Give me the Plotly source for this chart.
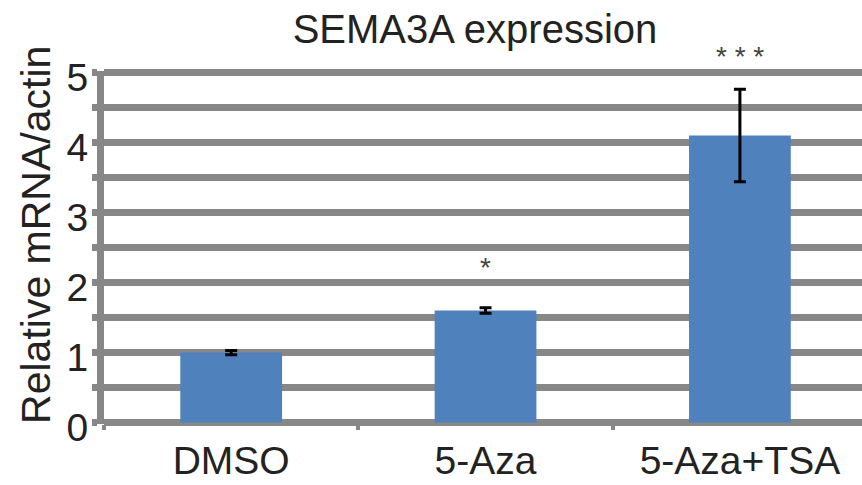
import plotly.graph_objects as go

categories = ["DMSO", "5-Aza", "5-Aza+TSA"]
values = [1.0, 1.6, 4.1]
errors = [0.03, 0.04, 0.66]
significance = ["", "*", "* * *"]
sig_y = [None, 2.22, 5.22]
ytick_vals = [0, 0.5, 1, 1.5, 2, 2.5, 3, 3.5, 4, 4.5, 5]
ytick_text = ["0", "", "1", "", "2", "", "3", "", "4", "", "5"]

FONT = "Liberation Sans, Arial, sans-serif"
GRID = "#878787"
Y0, Y1 = -0.02, 5.02

fig = go.Figure()
fig.add_trace(go.Bar(
    x=categories, y=values, width=0.4,
    marker=dict(color="#4F81BD", line=dict(width=0)),
    error_y=dict(type="data", array=errors, visible=True,
                 color="black", thickness=3, width=6),
))

for cat, s, sy in zip(categories, significance, sig_y):
    if s:
        fig.add_annotation(x=cat, y=(sy - Y0) / (Y1 - Y0), xref="x", yref="paper", text=s,
                           showarrow=False, yanchor="middle",
                           font=dict(family=FONT, size=28, color="#444444"))

fig.add_annotation(x=-0.09, y=0.535, xref="paper", yref="paper",
                   text="Relative mRNA/actin", textangle=-90, showarrow=False,
                   xanchor="center", yanchor="middle",
                   font=dict(family=FONT, size=41, color="#222222"))

fig.update_layout(
    width=862, height=485,
    margin=dict(l=104, r=0, t=71, b=61),
    plot_bgcolor="white", paper_bgcolor="white",
    showlegend=False,
    title=dict(text="SEMA3A expression", x=475/862, xref="container", xanchor="center",
               y=1 - 29/485, yref="container", yanchor="middle",
               font=dict(family=FONT, size=40, color="#222222")),
    xaxis=dict(type="category", range=[-0.5, 2.48], showgrid=False,
               ticks="outside", tickson="boundaries", ticklen=5, tickwidth=4,
               tickcolor=GRID, showline=False, zeroline=False,
               ticklabelstandoff=10,
               tickfont=dict(family=FONT, size=39, color="#222222")),
    yaxis=dict(range=[Y0, Y1], tickvals=ytick_vals, ticktext=ytick_text,
               showgrid=True, gridcolor=GRID, gridwidth=7,
               zeroline=True, zerolinecolor=GRID, zerolinewidth=7,
               showline=True, linecolor=GRID, linewidth=7,
               ticks="outside", ticklen=5, tickwidth=7, tickcolor=GRID,
               ticklabelshift=5, ticklabelstandoff=-4,
               tickfont=dict(family=FONT, size=39, color="#222222")),
)

fig.write_html("out.html")
